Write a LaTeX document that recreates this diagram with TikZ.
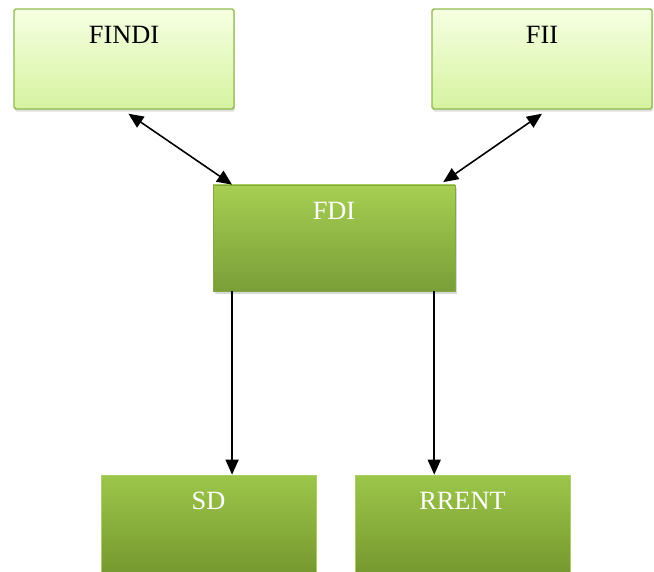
\documentclass[tikz,border=0pt]{standalone}
\usepackage{fontspec}
\setmainfont{Liberation Serif}
\usetikzlibrary{positioning,arrows.meta,calc,shadows}

\definecolor{paletop}{HTML}{F6FFE2}
\definecolor{palebot}{HTML}{D6F3A0}
\definecolor{paleline}{HTML}{8DBA4C}
\definecolor{midtop}{HTML}{A6CF52}
\definecolor{midbot}{HTML}{7A9E38}
\definecolor{darktop}{HTML}{9CC64A}
\definecolor{darkbot}{HTML}{76992F}

\begin{document}
\begin{tikzpicture}[
  outer/.style={draw=paleline, line width=0.8pt, top color=paletop, bottom color=palebot,
    minimum width=4.4cm, minimum height=2.0cm, rounded corners=1pt,
    drop shadow={shadow xshift=0.5pt, shadow yshift=-1.5pt, opacity=0.25}},
  hub/.style={draw=midtop!80!black, line width=0.4pt, top color=midtop, bottom color=midbot,
    minimum width=4.84cm, minimum height=2.12cm,
    drop shadow={shadow xshift=1pt, shadow yshift=-1.5pt, opacity=0.3}},
  leaf/.style={draw=darktop!85!white, line width=0.4pt, top color=darktop, bottom color=darkbot,
    minimum width=4.3cm, minimum height=1.94cm,
    drop shadow={shadow xshift=0.5pt, shadow yshift=-1pt, opacity=0.2}},
  toptext/.style={font=\fontsize{15}{18}\selectfont, text=black},
  whitetext/.style={font=\fontsize{15}{18}\selectfont, text=white},
  link/.style={line width=0.9pt, -{Triangle[length=0.3cm, width=0.26cm]}},
  both/.style={line width=0.9pt, {Triangle[length=0.3cm, width=0.26cm]}-{Triangle[length=0.3cm, width=0.26cm]}}
]
\useasboundingbox (0,0) rectangle (13.08,-11.44);

% Top row
\node[outer, label={[toptext, anchor=center, yshift=-0.53cm]north:FINDI}] (findi) at (2.48,-1.18) {};
\node[outer, label={[toptext, anchor=center, yshift=-0.53cm]north:FII}] (fii) at (10.84,-1.18) {};

% Centre
\node[hub, label={[whitetext, anchor=center, yshift=-0.53cm]north:FDI}] (fdi) at (6.68,-4.76) {};

% Bottom row
\node[leaf, label={[whitetext, anchor=center, yshift=-0.53cm]north:SD}] (sd) at (4.17,-10.47) {};
\node[leaf, label={[whitetext, anchor=center, yshift=-0.53cm]north:RRENT}] (rrent) at (9.25,-10.47) {};

% Connectors
\coordinate (findi-out) at ($(findi.south west)!0.52!(findi.south east)+(0,-0.08)$);
\coordinate (fii-out) at ($(fii.south west)!0.5!(fii.south east)+(0,-0.08)$);
\coordinate (fdi-nw) at ($(fdi.north west)!0.08!(fdi.north east)$);
\coordinate (fdi-ne) at ($(fdi.north west)!0.95!(fdi.north east)+(0,0.05)$);
\coordinate (fdi-sw) at ($(fdi.south west)!0.08!(fdi.south east)$);
\coordinate (fdi-se) at ($(fdi.south west)!0.913!(fdi.south east)$);

\draw[both] (findi-out) -- (fdi-nw);
\draw[both] (fii-out) -- (fdi-ne);
\draw[link] (fdi-sw) -- (fdi-sw |- sd.north);
\draw[link] (fdi-se) -- (fdi-se |- rrent.north);

\end{tikzpicture}
\end{document}
